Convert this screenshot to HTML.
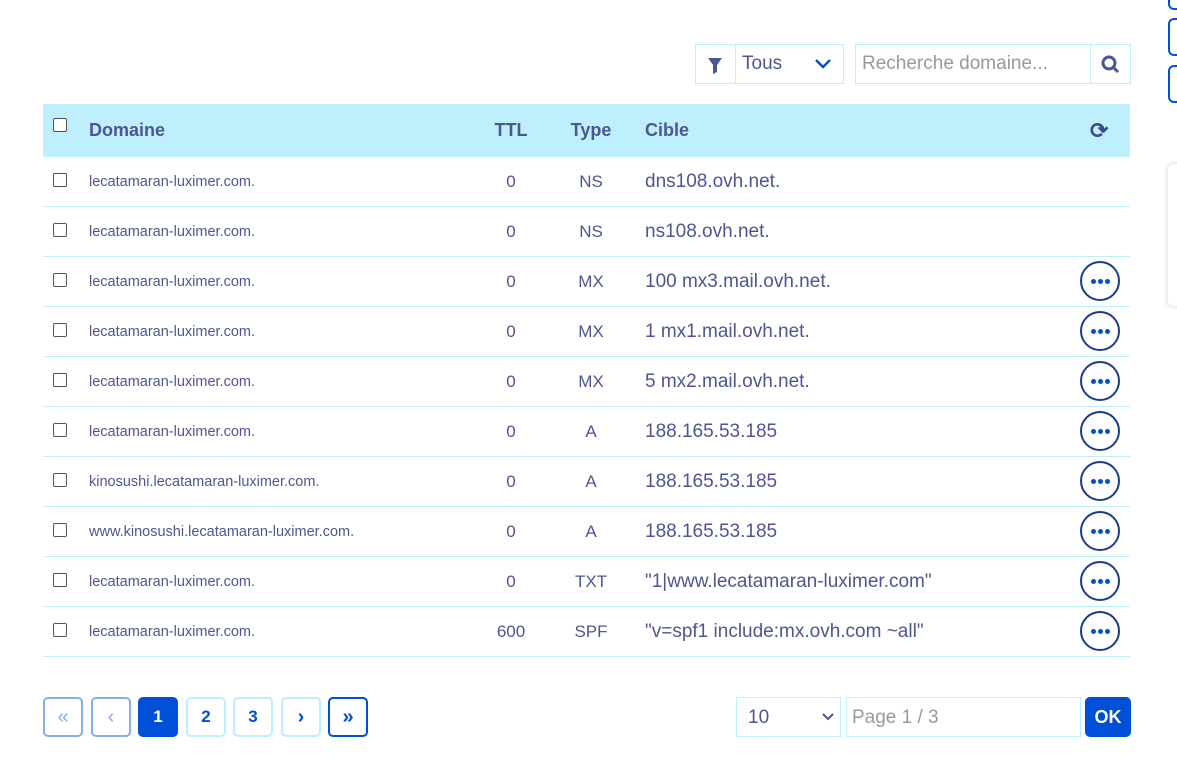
<!DOCTYPE html>
<html><head><meta charset="utf-8"><style>
*{box-sizing:border-box}
body{margin:0;width:1177px;height:769px;background:#fff;position:relative;overflow:hidden;font-family:"Liberation Sans",sans-serif;color:#4d5693}
.a{position:absolute}
.cb{position:absolute;left:53px;width:14px;height:14px;border:1px solid #555;border-radius:2px;background:#fff}
.row{position:absolute;left:43px;width:1087px;height:50px;border-bottom:1px solid #bdeffd}
.dom{position:absolute;left:46px;top:0;line-height:50px;font-size:14.5px}
.ttl{position:absolute;left:428px;width:80px;text-align:center;line-height:50px;font-size:17px}
.typ{position:absolute;left:508px;width:80px;text-align:center;line-height:50px;font-size:17px}
.cib{position:absolute;left:602px;line-height:50px;font-size:19px}
.act{position:absolute;left:1037px;top:4px;width:40px;height:40px;border:2px solid #1a3c8e;border-radius:50%}
.act i{position:absolute;top:16px;width:5px;height:5px;border-radius:50%;background:#0050d7}
.pg{position:absolute;top:697px;width:40px;height:40px;border:2px solid #bdeffd;border-radius:5px;text-align:center;line-height:36px;font-size:17px;font-weight:bold;color:#0050d7}
</style></head><body>
<div class="a" style="left:1168px;top:-10px;width:20px;height:20px;border:2px solid #0050d7;border-radius:6px"></div>
<div class="a" style="left:1168px;top:18px;width:20px;height:38px;border:2px solid #0050d7;border-radius:6px"></div>
<div class="a" style="left:1168px;top:65px;width:20px;height:38px;border:2px solid #0050d7;border-radius:6px"></div>
<div class="a" style="left:1167px;top:163px;width:30px;height:144px;border:1px solid #eee;border-radius:6px;box-shadow:0 0 4px #ddd"></div>

<div class="a" style="left:695px;top:44px;width:149px;height:40px;border:1px solid #bdeffd">
 <div class="a" style="left:0;top:0;width:40px;height:38px;border-right:1px solid #bdeffd"><svg width="39" height="38"><path d="M12 13h14l-5 7v7l-4 2v-9z" fill="#4d5693"/></svg></div>
 <div class="a" style="left:46px;top:0;line-height:38px;font-size:19px">Tous</div>
 <svg class="a" style="left:118px;top:12px" width="20" height="14"><path d="M2 3l7 7 7-7" stroke="#0050d7" stroke-width="2.5" fill="none"/></svg>
</div>
<div class="a" style="left:855px;top:44px;width:276px;height:40px;border:1px solid #bdeffd">
 <div class="a" style="left:6px;line-height:38px;font-size:19px;color:#999">Recherche domaine...</div>
 <div class="a" style="left:234px;top:0;width:40px;height:38px;border-left:1px solid #bdeffd"><svg width="40" height="38"><circle cx="18" cy="18" r="6" stroke="#4d5693" stroke-width="3" fill="none"/><path d="M22 22l5 5" stroke="#4d5693" stroke-width="3"/></svg></div>
</div>

<div class="a" style="left:43px;top:104px;width:1087px;height:53px;background:#bdeffd;font-weight:bold;font-size:18px">
 <div class="cb" style="left:10px;top:14px"></div>
 <div class="a" style="left:46px;line-height:53px">Domaine</div>
 <div class="a" style="left:428px;width:80px;text-align:center;line-height:53px">TTL</div>
 <div class="a" style="left:508px;width:80px;text-align:center;line-height:53px">Type</div>
 <div class="a" style="left:602px;line-height:53px">Cible</div>
 <div class="a" style="left:1047px;top:14px;font-size:22px;color:#3d4a8f">⟳</div>
</div>
<div id="rows"></div>

<div class="pg" style="left:43px;border-color:#86adf0;color:#86adf0;font-weight:normal;font-size:20px">«</div>
<div class="pg" style="left:91px;border-color:#86adf0;color:#86adf0;font-weight:normal;font-size:20px">‹</div>
<div class="pg" style="left:138px;background:#0050d7;border-color:#0050d7;color:#fff">1</div>
<div class="pg" style="left:186px">2</div>
<div class="pg" style="left:233px">3</div>
<div class="pg" style="left:281px;font-size:20px">›</div>
<div class="pg" style="left:328px;border-color:#0050d7;font-size:20px">»</div>

<div class="a" style="left:736px;top:697px;width:105px;height:40px;border:1px solid #bdeffd">
 <div class="a" style="left:11px;line-height:40px;font-size:19px">10</div>
 <svg class="a" style="left:84px;top:14px" width="14" height="10"><path d="M2 2l5 5 5-5" stroke="#4d5693" stroke-width="2" fill="none"/></svg>
</div>
<div class="a" style="left:846px;top:697px;width:235px;height:40px;border:1px solid #bdeffd"><div class="a" style="left:5px;line-height:40px;font-size:19px;color:#999">Page 1 / 3</div></div>
<div class="a" style="left:1085px;top:697px;width:46px;height:40px;background:#0050d7;border-radius:5px;color:#fff;font-weight:bold;font-size:18px;text-align:center;line-height:40px">OK</div>

<script>
const domains=["lecatamaran-luximer.com.","lecatamaran-luximer.com.","lecatamaran-luximer.com.","lecatamaran-luximer.com.","lecatamaran-luximer.com.","lecatamaran-luximer.com.","kinosushi.lecatamaran-luximer.com.","www.kinosushi.lecatamaran-luximer.com.","lecatamaran-luximer.com.","lecatamaran-luximer.com."];
const ttls=["0","0","0","0","0","0","0","0","0","600"];
const types=["NS","NS","MX","MX","MX","A","A","A","TXT","SPF"];
const targets=["dns108.ovh.net.","ns108.ovh.net.","100 mx3.mail.ovh.net.","1 mx1.mail.ovh.net.","5 mx2.mail.ovh.net.","188.165.53.185","188.165.53.185","188.165.53.185","\"1|www.lecatamaran-luximer.com\"","\"v=spf1 include:mx.ovh.com ~all\""];
const c=document.getElementById('rows');
domains.forEach((d,i)=>{
 const r=document.createElement('div');r.className='row';r.style.top=(157+i*50)+'px';
 
 
 r.innerHTML='<div class="cb" style="left:10px;top:16px"></div><div class="dom">'+d+'</div><div class="ttl">'+ttls[i]+'</div><div class="typ">'+types[i]+'</div><div class="cib"></div>'+(types[i]!=='NS'?'<div class="act"><i style="left:9px"></i><i style="left:16px"></i><i style="left:23px"></i></div>':'');
 r.querySelector('.cib').textContent=targets[i];
 const cb=r.querySelector('.cb');
 
 
 const a=r.querySelector('.act');
 if(a){
 }
 c.appendChild(r);
});
</script>
</body></html>
